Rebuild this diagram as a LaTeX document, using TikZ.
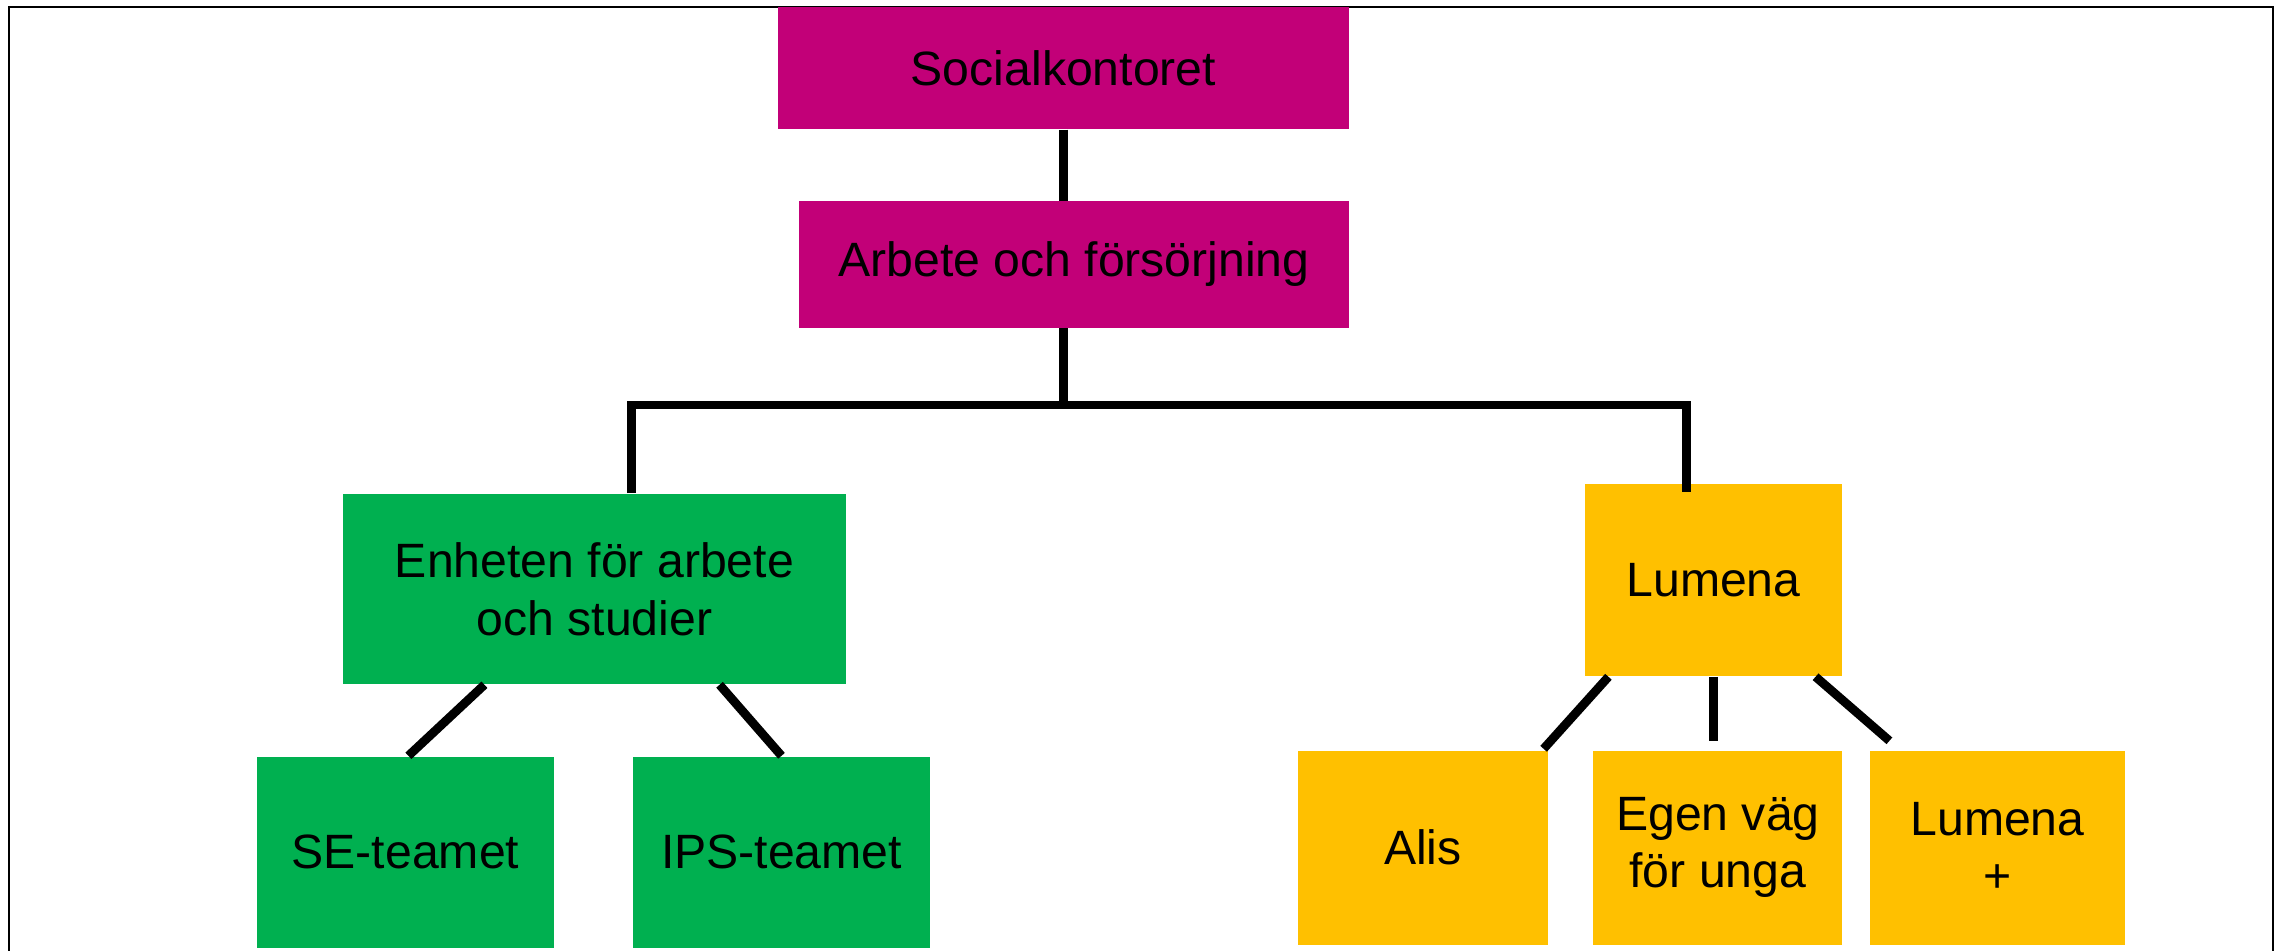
\documentclass[tikz,border=0pt]{standalone}
\usepackage{fontspec}
\setmainfont{Liberation Sans}
\usetikzlibrary{positioning}
\definecolor{socmag}{RGB}{194,0,120}
\definecolor{enhgreen}{RGB}{0,176,80}
\definecolor{lumgold}{RGB}{255,192,0}

\begin{document}
\begin{tikzpicture}[x=0.01cm, y=-0.01cm,
    unit/.style={rectangle, inner sep=0pt, align=center,
        font=\fontsize{13.7pt}{16.4pt}\selectfont},
    magbox/.style={unit, fill=socmag},
    greenbox/.style={unit, fill=enhgreen},
    goldbox/.style={unit, fill=lumgold},
    link/.style={draw=black, line width=2.5pt}]
   \useasboundingbox (0,0) rectangle (2277,951);
   \draw[line width=0.7pt] (9,980) -- (9,7) -- (2273,7) -- (2273,980);

   \node[magbox, minimum width=5.71cm, minimum height=1.22cm] (soc) at (1063.5,68) {Socialkontoret};
   \node[magbox, minimum width=5.5cm, minimum height=1.26cm] (arb)
        [below=0.71cm of soc.south east, anchor=north east] {Arbete och försörjning};
   \node[greenbox, minimum width=5.03cm, minimum height=1.9cm] (enh) at (594.5,589) {Enheten för arbete\\och studier};
   \node[goldbox, minimum width=2.57cm, minimum height=1.92cm] (lum) at (1713.5,580) {Lumena};

   \node[greenbox, minimum width=2.97cm, minimum height=1.91cm] (se)
        [below=0.71cm of enh.south west, anchor=north west, xshift=-0.86cm] {SE-teamet};
   \node[greenbox, minimum width=2.96cm, minimum height=1.91cm] (ips) [right=0.78cm of se] {IPS-teamet};

   \node[goldbox, minimum width=2.5cm, minimum height=1.94cm] (alis)
        [below=0.73cm of lum.south west, anchor=north west, xshift=-2.87cm] {Alis};
   \node[goldbox, minimum width=2.49cm, minimum height=1.94cm] (egen) [right=0.44cm of alis] {Egen väg\\för unga};
   \node[goldbox, minimum width=2.55cm, minimum height=1.94cm] (lplus) [right=0.26cm of egen] {Lumena\\+};

   \coordinate (bus) at (soc.south |- 0,405);
   \draw[link] ([xshift=0.37cm]enh.north) |- (bus) -| ([xshift=-0.27cm, yshift=-0.09cm]lum.north);
   \path[link]
    (soc.south) edge (soc.south |- arb.north)
    (soc.south |- arb.south) edge (bus)
    ([xshift=-1.1cm]enh.south) edge ([xshift=0.03cm]se.north)
    ([xshift=1.25cm]enh.south) edge (ips.north)
    ([xshift=-1.05cm]lum.south) edge ([xshift=-0.05cm, yshift=0.01cm]alis.north east)
    (lum.south) edge ([yshift=0.09cm]lum.south |- egen.north)
    ([xshift=1.02cm]lum.south) edge ([xshift=-1.08cm, yshift=0.09cm]lplus.north);
\end{tikzpicture}
\end{document}
